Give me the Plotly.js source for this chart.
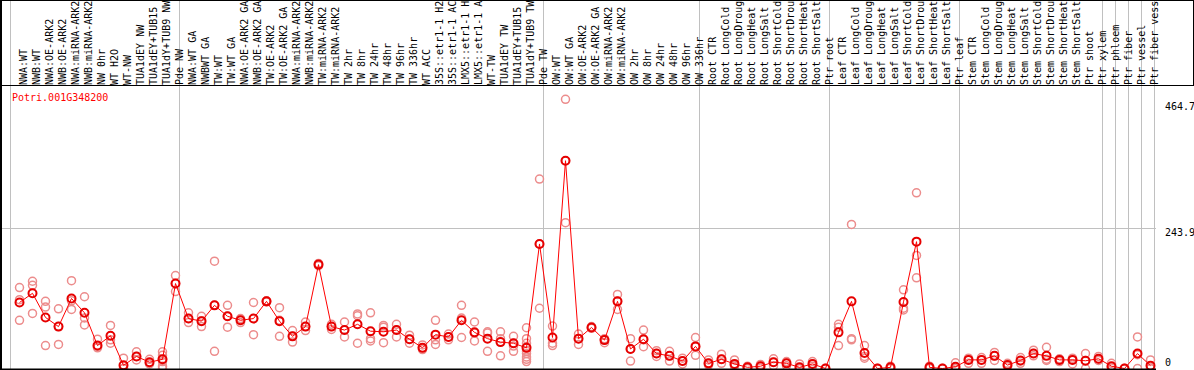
<!DOCTYPE html>
<html><head><meta charset="utf-8">
<script src="https://cdn.plot.ly/plotly-3.0.1.min.js"></script>
<style>body{margin:0;padding:0;background:#fff}#chart{width:1194px;height:370px}</style>
</head><body><div id="chart"></div>
<script>
const labels = [
 "NWA:WT","NWB:WT","NWA:OE-ARK2","NWB:OE-ARK2","NWA:miRNA-ARK2","NWB:miRNA-ARK2","NW 0hr","WT H2O","WT-NW","TUA1dEY NW","TUA1dEY+TUB15","TUA1dY+TUB9 NW","Pde NW",
 "NWA:WT GA","NWBWT GA","TW:WT","TW:WT GA","NWA:OE-ARK2 GA","NWB:OE-ARK2 GA","TW:OE-ARK2","TW:OE-ARK2 GA","NWA:miRNA-ARK2","NWB:miRNA-ARK2","TW:miRNA-ARK2","TW:miRNA-ARK2",
 "TW 2hr","TW 8hr","TW 24hr","TW 48hr","TW 96hr","TW 336hr","WT ACC","35S::etr1-1 H2","35S::etr1-1 AC","LMX5::etr1-1 H","LMX5::etr1-1 A","WT-TW","TUA1dEY TW","TUA1dEY+TUB15","TUA1dY+TUB9 TW","Pde TW",
 "OW:WT","OW:WT GA","OW:OE-ARK2","OW:OE-ARK2 GA","OW:miRNA-ARK2","OW:miRNA-ARK2","OW 2hr","OW 8hr","OW 24hr","OW 48hr","OW 96hr","OW 336hr",
 "Root CTR","Root LongCold","Root LongDroug","Root LongHeat","Root LongSalt","Root ShortCold","Root ShortDrou","Root ShortHeat","Root ShortSalt","Ptr root",
 "Leaf CTR","Leaf LongCold","Leaf LongDroug","Leaf LongHeat","Leaf LongSalt","Leaf ShortCold","Leaf ShortDrou","Leaf ShortHeat","Leaf ShortSalt","Ptr leaf",
 "Stem CTR","Stem LongCold","Stem LongDroug","Stem LongHeat","Stem LongSalt","Stem ShortCold","Stem ShortDrou","Stem ShortHeat","Stem ShortSalt","Ptr shoot","Ptr xylem",
 "Ptr phloem","Ptr fiber","Ptr vessel","Ptr fiber vess"
];
const means = [
 115,131,89,73,122,97,40,57,5.5,21,11,16,148,
 87,82.5,110,91,84,87,117,82.5,56,73,181,73,
 67,77,65,64,67,51,36,59,55,84,63,52,46,44,36,217,
 54,362,52,71.5,49.5,117,34,51,26,22,13,38.5,
 9,16,8,2,4,11,9,2,8,0,
 63,117,27,0,2,116,221,2,0,3,
 15,15,22,6,14,26,22,15,15,13.5,17,
 4,0,26,5
];
const reps = [
 [141,120,84],[152,145,96],[117,107,40],[104,73,42],[153,118,103],[125,88,76],[51,38,36],[75,50,44],[18,0,0],[29,21,15],[16,10,8],[29,23,16,12,4,0],[162,148,134],
 [97,87,80],[91,83,73],[187,110,30],[110,91,72],[87,84,80],[115,87,59],[118,117,116],[106,84,56],[66,56,46],[81,73,66],[183,181,179],[77,73,68],
 [81,67,55],[95,92,44],[97,52,48],[75,72,45],[77,67,55],[58,51,44],[41,36,33],[84,50,42],[60,55,50],[110,88,54],[81,62,48],[64,62,30],[64,52,22],[56,44,39,30],[71,52,44,38,30,26,20,16,12],[330,217,105],
 [74,44,40],[469,362,254],[60,52,42],[73,71,70],[52,50,45],[129,117,103],[52,34,13],[67,50,38],[31,26,21],[30,22,13],[18,13,8],[54,38,23],
 [15,9,6],[25,16,9],[15,6,4],[4,2,0],[7,4,1],[17,11,5],[12,9,5],[8,0,0],[12,8,4],[0,0,0],
 [77,72,40],[251,52,50],[40,21,18],[0,0,0],[4,2,0],[137,105,102],[306,197,158],[4,1,0],[0,0,0],[10,0,0],
 [18,15,9],[19,15,9],[28,22,14],[9,6,3],[19,13,9],[32,26,22],[37,16,14],[17,15,12],[18,15,8],[26,14,0],[21,16,14],
 [9,3,1],[0,0,0],[55,24,0],[15,0,0]
];
const groupBreaks = [0,13,41,53,63,73,84,85,86,87,88];
const yTickVals = [0,243.9,464.7];
const yTickText = ["0","243.9","464.7"];
const geneId = "Potri.001G348200";

const idx = labels.map((_, i) => i);
const repX = [], repY = [];
reps.forEach((r, i) => r.forEach(v => { repX.push(i); repY.push(v); }));

const MONO = "DejaVu Sans Mono, monospace";
const traces = [
 {type:"scatter", mode:"markers", x:repX, y:repY, hoverinfo:"skip",
  marker:{symbol:"circle-open", size:8, color:"rgb(236,140,140)", line:{width:1.5}}},
 {type:"scatter", mode:"lines+markers", x:idx, y:means,
  line:{color:"rgb(255,0,0)", width:1},
  marker:{symbol:"circle-open", size:8, color:"rgb(230,0,0)", line:{width:2}}}
];

const plotL = 1, plotW = 1155, plotT = 86, plotH = 283;
const px = p => (p - plotL) / plotW;
const py = p => (plotT + plotH - p) / plotH;

const shapes = [];
groupBreaks.forEach(k => shapes.push({type:"line", xref:"x", yref:"paper",
  x0:k-0.6923, x1:k-0.6923, y0:py(370), y1:py(0), line:{color:"#c0c0c0", width:1}, layer:"below"}));
shapes.push({type:"line", xref:"paper", yref:"y", x0:px(0), x1:px(1156), y0:243.9, y1:243.9,
  line:{color:"#c0c0c0", width:1}, layer:"below"});
shapes.push({type:"line", xref:"paper", yref:"paper", x0:px(0), x1:px(1194), y0:py(0.5), y1:py(0.5), line:{color:"#000", width:1}});
shapes.push({type:"line", xref:"paper", yref:"paper", x0:px(0), x1:px(1194), y0:py(85.5), y1:py(85.5), line:{color:"#000", width:1}});
shapes.push({type:"line", xref:"paper", yref:"paper", x0:px(1), x1:px(1), y0:py(0), y1:py(370), line:{color:"#000", width:2}});
shapes.push({type:"line", xref:"paper", yref:"paper", x0:px(1193.5), x1:px(1193.5), y0:py(0), y1:py(85.5), line:{color:"#000", width:1}});
shapes.push({type:"line", xref:"paper", yref:"paper", x0:px(0), x1:px(1156), y0:py(369.5), y1:py(369.5), line:{color:"#000", width:2}});

const yShift = [6.5, -3.5, -5];
const annotations = yTickVals.map((v, i) => ({xref:"paper", yref:"y", x:px(1163), y:v, xanchor:"left", yanchor:"middle",
  yshift:yShift[i], text:yTickText[i], showarrow:false, font:{family:MONO, size:10, color:"#000"}}));
annotations.push({xref:"paper", yref:"paper", x:px(10), y:py(97), xanchor:"left", yanchor:"middle",
  text:geneId, showarrow:false, font:{family:MONO, size:10, color:"#ff0000"}});

const layout = {
  width:1194, height:370, margin:{l:1, r:38, t:86, b:1, pad:0},
  paper_bgcolor:"#fff", plot_bgcolor:"#fff", showlegend:false,
  xaxis:{range:[-1.4231, 87.4231], side:"top", tickmode:"array", tickvals:idx, ticktext:labels,
    tickangle:-90, ticklabelshift:4, tickfont:{family:MONO, size:10, color:"#000"}, showgrid:false, zeroline:false,
    showline:false, ticks:"", fixedrange:true},
  yaxis:{range:[-0.87, 492.2], showgrid:false, zeroline:false, showticklabels:false, ticks:"", showline:false, fixedrange:true},
  shapes, annotations
};
Plotly.newPlot("chart", traces, layout, {displayModeBar:false, staticPlot:true});
</script></body></html>
